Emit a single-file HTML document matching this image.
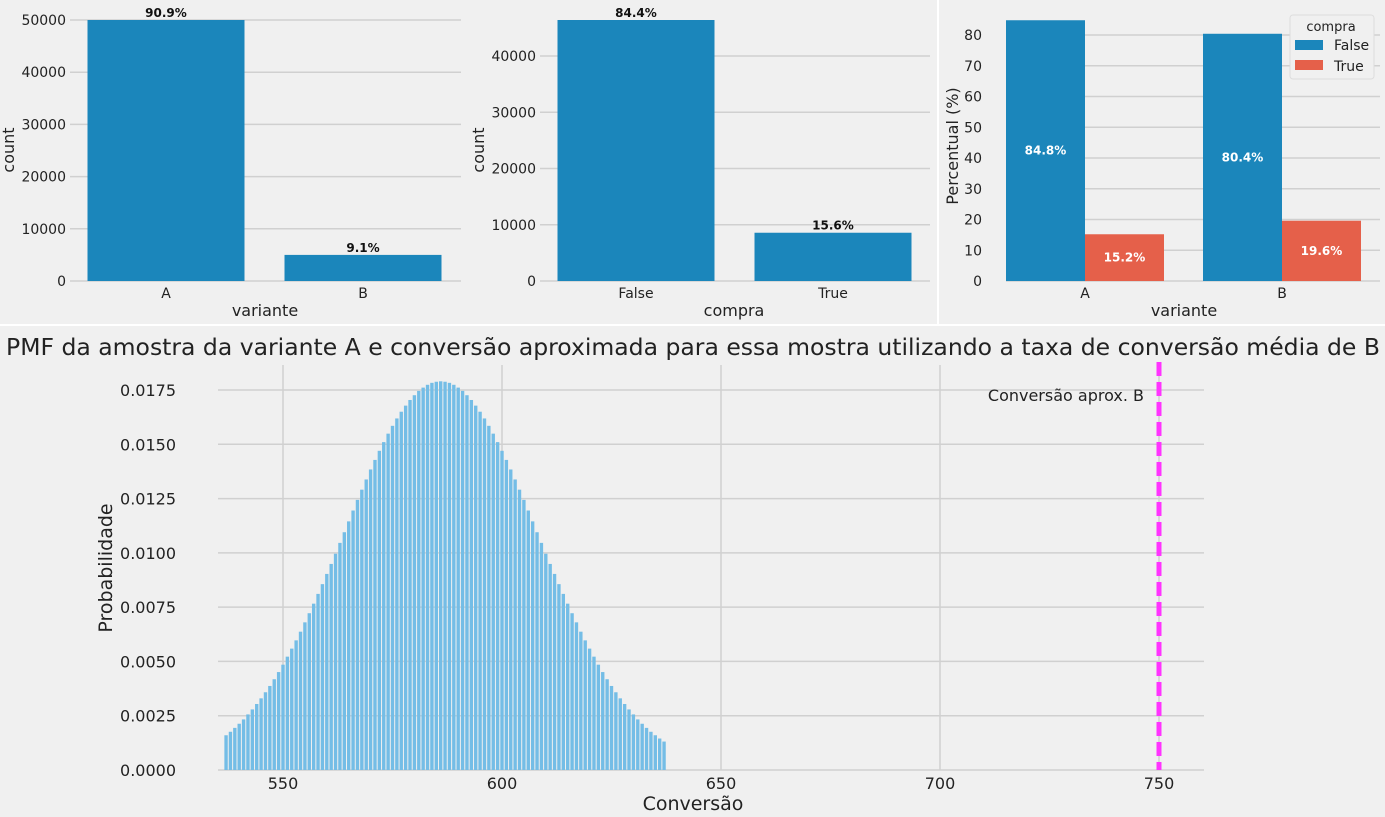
<!DOCTYPE html>
<html><head><meta charset="utf-8"><style>
html,body{margin:0;padding:0;background:#f0f0f0;}
svg{display:block;font-family:"DejaVu Sans","Liberation Sans",sans-serif;}
</style></head><body>
<svg id="fig" width="1385" height="817" viewBox="0 0 1385 817">
<rect x="0" y="0" width="1385" height="817" fill="#f0f0f0"/>
<line x1="0" y1="325" x2="1385" y2="325" stroke="#fff" stroke-width="2"/>
<line x1="938" y1="0" x2="938" y2="325" stroke="#fff" stroke-width="2"/>
<g id="c1"></g>
<g id="c2"></g>
<g id="c3"></g>
<g id="c4"></g>
</svg>
<script>
const c1Cats=["A","B"];
const c1Vals=[50000,5000];
const c1Labels=["90.9%","9.1%"];
const c1Ticks=[0,10000,20000,30000,40000,50000];
const c2Cats=["False","True"];
const c2Vals=[46400,8580];
const c2Labels=["84.4%","15.6%"];
const c2Ticks=[0,10000,20000,30000,40000];
const c3Cats=["A","B"];
const c3False=[84.8,80.4];
const c3True=[15.2,19.6];
const c3Ticks=[0,10,20,30,40,50,60,70,80];
const pmfStart=537;
const pmfVals=[0.00160,0.00176,0.00194,0.00213,0.00233,0.00256,0.00279,0.00304,0.00330,0.00358,0.00387,0.00418,0.00451,0.00485,0.00522,0.00559,0.00597,0.00637,0.00680,0.00722,0.00766,0.00811,0.00856,0.00903,0.00949,0.00996,0.01046,0.01095,0.01145,0.01195,0.01244,0.01291,0.01338,0.01384,0.01428,0.01470,0.01510,0.01549,0.01585,0.01619,0.01650,0.01678,0.01704,0.01726,0.01746,0.01761,0.01774,0.01783,0.01788,0.01790,
0.01788,0.01783,0.01774,0.01761,0.01746,0.01726,0.01704,0.01678,0.01650,0.01619,0.01585,0.01549,0.01510,0.01470,0.01428,0.01384,0.01338,0.01291,0.01244,0.01195,0.01145,0.01095,0.01046,0.00996,0.00949,0.00903,0.00856,0.00811,0.00766,0.00722,0.00680,0.00637,0.00597,0.00559,0.00522,0.00485,0.00451,0.00418,0.00387,0.00358,0.00330,0.00304,0.00279,0.00256,0.00233,0.00213,0.00194,0.00176,0.00160,0.00145,0.00131];
const pmfXTicks=[550,600,650,700,750];
const pmfYTicks=[0,0.0025,0.005,0.0075,0.01,0.0125,0.015,0.0175];
const refLine=750;

const NS="http://www.w3.org/2000/svg";
function mk(parent,tag,attrs,text){const e=document.createElementNS(NS,tag);for(const k in attrs)e.setAttribute(k,attrs[k]);if(text!==undefined)e.textContent=text;parent.appendChild(e);return e;}
const BLUE="#1b86bb",RED="#e5604a",GRID="#d0d0d0",TXT="#222";

function countChart(g,cats,vals,labels,ticks,o){
  const y=v=>o.y0-(v/o.yRef)*(o.y0-o.yRefPx);
  ticks.forEach(t=>{
    const gl=mk(g,"line",{x1:o.gx1,x2:o.gx2,y1:y(t),y2:y(t),stroke:GRID,"stroke-width":1.5});
    
    
    const tl=mk(g,"text",{x:o.gx1-4,y:y(t)+5,"text-anchor":"end","font-size":14,fill:TXT},String(t));
    
    
  });
  cats.forEach((c,i)=>{
    const cx=o.c0+i*o.step, w=o.bw;
    const b=mk(g,"rect",{x:cx-w/2,y:y(vals[i]),width:w,height:o.y0-y(vals[i]),fill:BLUE});
    
    
    const l=mk(g,"text",{x:cx,y:y(vals[i])-3,"text-anchor":"middle","font-size":12,"font-weight":"bold",fill:"#111"},labels[i]);
    
    
    const xl=mk(g,"text",{x:cx,y:o.y0+17,"text-anchor":"middle","font-size":14,fill:TXT},c);
    
    
  });
  const xt=mk(g,"text",{x:o.xtx,y:316,"text-anchor":"middle","font-size":16,fill:TXT},o.xtitle);
  
  
  const yt=mk(g,"text",{x:0,y:0,transform:`translate(${o.ytx},150) rotate(-90)`,"text-anchor":"middle","font-size":16,fill:TXT},o.ytitle);
  
  
}
countChart(document.getElementById("c1"),c1Cats,c1Vals,c1Labels,c1Ticks,{y0:281,yRef:50000,yRefPx:20,gx1:70,gx2:461,c0:166,step:197,bw:157,xtx:265,xtitle:"variante",ytx:14,ytitle:"count"});
countChart(document.getElementById("c2"),c2Cats,c2Vals,c2Labels,c2Ticks,{y0:281,yRef:40000,yRefPx:56,gx1:540,gx2:930,c0:636,step:197,bw:157,xtx:734,xtitle:"compra",ytx:484,ytitle:"count"});

(function(){
  const g=document.getElementById("c3");
  const y0=281,y=v=>y0-v*(y0-35)/80;
  c3Ticks.forEach(t=>{
    const gl=mk(g,"line",{x1:1006,x2:1380,y1:y(t),y2:y(t),stroke:GRID,"stroke-width":1.5});
    
    
    const tl=mk(g,"text",{x:982,y:y(t)+5,"text-anchor":"end","font-size":14,fill:TXT},String(t));
    
    
  });
  c3Cats.forEach((c,i)=>{
    const cx=1085+i*197,w=79;
    const bf=mk(g,"rect",{x:cx-w,y:y(c3False[i]),width:w,height:y0-y(c3False[i]),fill:BLUE});
    
    
    const bt=mk(g,"rect",{x:cx,y:y(c3True[i]),width:w,height:y0-y(c3True[i]),fill:RED});
    
    
    const lf=mk(g,"text",{x:cx-w/2,y:(y(c3False[i])+y0)/2+4,"text-anchor":"middle","font-size":12,"font-weight":"bold",fill:"#fff"},c3False[i].toFixed(1)+"%");
    
    
    const lt=mk(g,"text",{x:cx+w/2,y:(y(c3True[i])+y0)/2+4,"text-anchor":"middle","font-size":12,"font-weight":"bold",fill:"#fff"},c3True[i].toFixed(1)+"%");
    
    
    const xl=mk(g,"text",{x:cx,y:y0+17,"text-anchor":"middle","font-size":14,fill:TXT},c);
    
    
  });
  const xt=mk(g,"text",{x:1184,y:316,"text-anchor":"middle","font-size":16,fill:TXT},"variante");
  
  
  const yt=mk(g,"text",{x:0,y:0,transform:"translate(958,146) rotate(-90)","text-anchor":"middle","font-size":16,fill:TXT},"Percentual (%)");
  
  
  const lg=mk(g,"g",{});
  
  
  mk(lg,"rect",{x:1290,y:15,width:84,height:64,rx:3,fill:"#f0f0f0",stroke:"#ddd"});
  mk(lg,"text",{x:1331,y:31,"text-anchor":"middle","font-size":13,fill:TXT},"compra");
  mk(lg,"rect",{x:1295,y:40,width:28,height:10,fill:BLUE});
  mk(lg,"text",{x:1334,y:50,"font-size":14,fill:TXT},"False");
  mk(lg,"rect",{x:1295,y:60,width:28,height:10,fill:RED});
  mk(lg,"text",{x:1334,y:71,"font-size":14,fill:TXT},"True");
})();

(function(){
  const g=document.getElementById("c4");
  const x=v=>283+(v-550)*(502-283)/50;
  const y=v=>770-v*(770-390)/0.0175;
  pmfYTicks.forEach(t=>{
    const gl=mk(g,"line",{x1:218,x2:1204,y1:y(t),y2:y(t),stroke:GRID,"stroke-width":1.5});
    
    
    const tl=mk(g,"text",{x:176,y:y(t)+6,"text-anchor":"end","font-size":16,fill:TXT},t===0?"0.0000":t.toFixed(4));
    
    
  });
  pmfXTicks.forEach(t=>{
    const gl=mk(g,"line",{x1:x(t),x2:x(t),y1:365,y2:770,stroke:GRID,"stroke-width":1.5});
    
    
    const tl=mk(g,"text",{x:x(t),y:789,"text-anchor":"middle","font-size":16,fill:TXT},String(t));
    
    
  });
  const bw=(502-283)/50;
  pmfVals.forEach((v,i)=>{
    const cx=x(pmfStart+i);
    const b=mk(g,"rect",{x:cx-bw/2+0.5,y:y(v),width:bw-1,height:770-y(v),fill:"#74bde6"});
    
    
  });
  const rl=mk(g,"line",{x1:x(refLine),x2:x(refLine),y1:362,y2:770,stroke:"#ff33ff","stroke-width":5,"stroke-dasharray":"14,6"});
  
  
  const rt=mk(g,"text",{x:1144,y:401,"text-anchor":"end","font-size":16,fill:TXT},"Conversão aprox. B");
  
  
  const tt=mk(g,"text",{x:693,y:355,"text-anchor":"middle","font-size":23.5,fill:TXT},"PMF da amostra da variante A e conversão aproximada para essa mostra utilizando a taxa de conversão média de B");
  
  
  const xt=mk(g,"text",{x:693,y:810,"text-anchor":"middle","font-size":19,fill:TXT},"Conversão");
  
  
  const yt=mk(g,"text",{x:0,y:0,transform:"translate(112,568) rotate(-90)","text-anchor":"middle","font-size":19,fill:TXT},"Probabilidade");
  
  
})();
</script>
</body></html>
